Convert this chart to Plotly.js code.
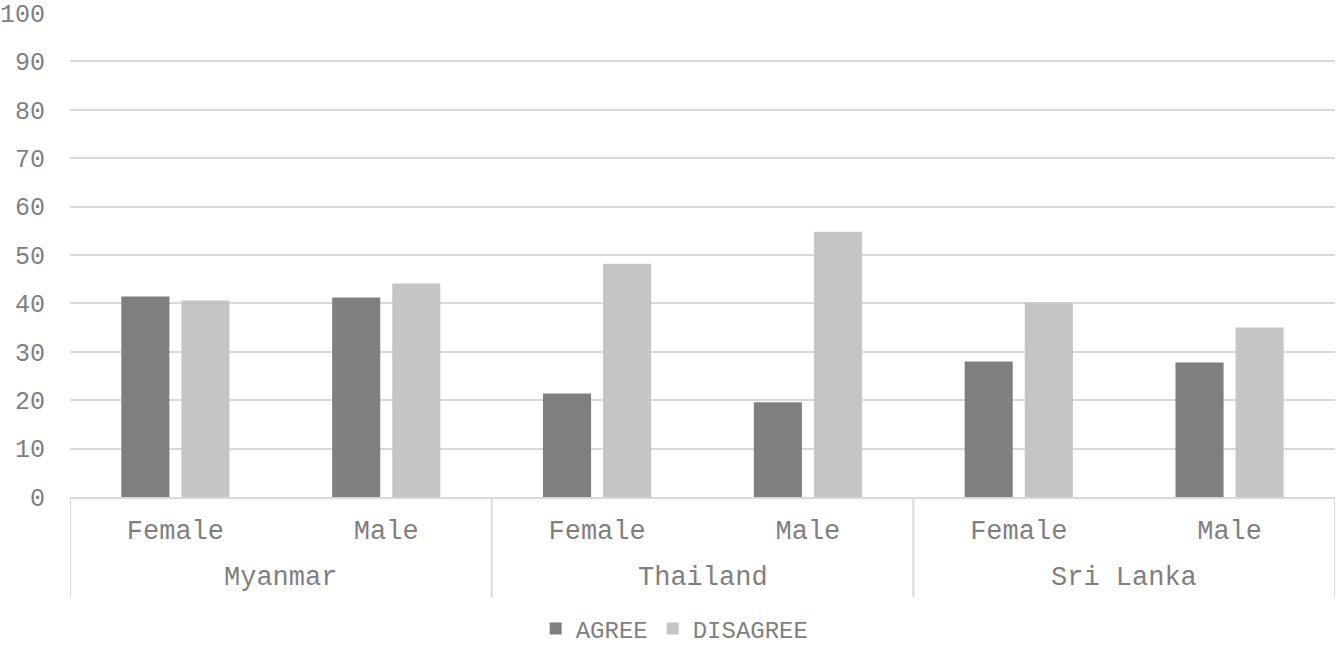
<!DOCTYPE html>
<html>
<head>
<meta charset="utf-8">
<script src="https://cdn.plot.ly/plotly-3.0.1.min.js"></script>
<style>html,body{margin:0;padding:0;background:#fff;}#chart{width:1336px;height:645px;}</style>
</head>
<body>
<div id="chart"></div>
<script>
var countries = ["Myanmar", "Myanmar", "Thailand", "Thailand", "Sri Lanka", "Sri Lanka"];
var genders = ["Female", "Male", "Female", "Male", "Female", "Male"];
var agree = [41.4, 41.2, 21.4, 19.6, 28.0, 27.8];
var disagree = [40.6, 44.1, 48.2, 54.8, 40.2, 35.0];
var yTicks = [0, 10, 20, 30, 40, 50, 60, 70, 80, 90, 100];

var fam = "Liberation Mono, Courier New, monospace";
var font = {family: fam, size: 27, color: "#7f7f7f"};
var yfont = {family: fam, size: 25, color: "#7f7f7f"};

var keys = countries.map(function (c, i) { return c + "|" + genders[i]; });

var data = [
  {type: "bar", name: "AGREE", x: keys, y: agree, marker: {color: "#7f7f7f"}},
  {type: "bar", name: "DISAGREE", x: keys, y: disagree, marker: {color: "#c4c5c4"}}
];

// group boundaries and centres derived from the category list
var groups = [];
countries.forEach(function (c, i) {
  if (!groups.length || groups[groups.length - 1].name !== c) groups.push({name: c, start: i, end: i});
  else groups[groups.length - 1].end = i;
});
var shapes = [];
var annotations = [];
var dividerLine = {color: "#d9d9d9", width: 2};
groups.forEach(function (g, gi) {
  if (gi === 0) shapes.push({type: "line", xref: "x", yref: "paper", x0: g.start - 0.5, x1: g.start - 0.5, y0: 0, y1: -0.206, line: dividerLine});
  shapes.push({type: "line", xref: "x", yref: "paper", x0: g.end + 0.5, x1: g.end + 0.5, y0: 0, y1: -0.206, line: dividerLine});
  annotations.push({xref: "x", yref: "paper", x: (g.start + g.end) / 2, y: -0.167, yanchor: "middle", xanchor: "center", text: g.name, showarrow: false, font: font});
});

var layout = {
  width: 1336, height: 645,
  margin: {l: 70, r: 1, t: 12, b: 148},
  paper_bgcolor: "#fff", plot_bgcolor: "#fff",
  font: font,
  barmode: "group", bargap: 0.43, bargroupgap: 0.2,
  showlegend: true,
  legend: {orientation: "h", x: 0.478, xanchor: "center", yref: "container", y: 0.025, yanchor: "middle", font: {family: fam, size: 24, color: "#7f7f7f"}},
  xaxis: {
    type: "category", tickvals: keys, ticktext: genders, automargin: false,
    showline: true, linecolor: "#d9d9d9", linewidth: 2,
    tickfont: font, showgrid: false, ticks: "", ticklabelstandoff: 8,
    range: [-0.5, keys.length - 0.5]
  },
  yaxis: {
    range: [0, 100.2], tickvals: yTicks, ticktext: yTicks.map(String), automargin: false,
    showgrid: true, gridcolor: "#d9d9d9", gridwidth: 2, zeroline: false,
    tickfont: yfont, ticklabelstandoff: 24, showline: false
  },
  shapes: shapes,
  annotations: annotations
};

Plotly.newPlot("chart", data, layout, {displayModeBar: false, staticPlot: true});
</script>
</body>
</html>
